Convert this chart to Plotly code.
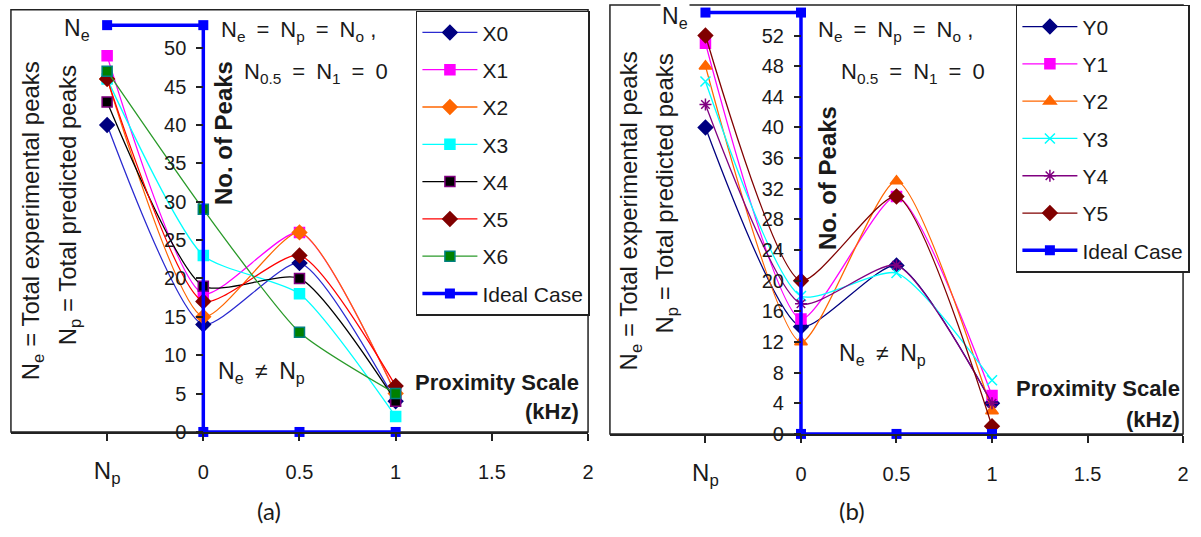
import plotly.graph_objects as go

# ---------------- data ----------------
x_pos = [-0.5, 0, 0.5, 1]
x_tickvals = [-0.5, 0, 0.5, 1, 1.5, 2]
x_ticktext = ['<span style="font-size:24px">N<sub>p</sub></span>', '0', '0.5', '1', '1.5', '2']

a_names = ['X0', 'X1', 'X2', 'X3', 'X4', 'X5', 'X6']
X0 = [40, 14, 22, 4]
X1 = [49, 18, 26, 5]
X2 = [46, 15, 26, 5]
X3 = [46, 23, 18, 2]
X4 = [43, 19, 20, 4]
X5 = [46, 17, 23, 6]
X6 = [47, 29, 13, 5]

b_names = ['Y0', 'Y1', 'Y2', 'Y3', 'Y4', 'Y5']
Y0 = [40, 14, 22, 4]
Y1 = [51, 15, 31, 5]
Y2 = [48, 12, 33, 3]
Y3 = [46, 18, 21, 7]
Y4 = [43, 17, 22, 4]
Y5 = [52, 20, 31, 1]

ideal_x = [-0.5, 0, 0, 0.5, 1]
ideal_a = [53, 53, 0, 0, 0]
ideal_b = [55, 55, 0, 0, 0]

a_yticks = list(range(0, 51, 5))
b_yticks = list(range(0, 53, 4))

# ---------------- styles ----------------
W, H = 1201, 537
FONT = 'Liberation Sans'
TXT = '#1a1a1a'
SP = '\u2002'  # en space for wide operators


def px(x):
    return x / W


def py(y):
    return 1 - y / H


a_styles = [
    dict(line='#2b2bd0', fill='#000080', edge='#000080', symbol='diamond', size=11),
    dict(line='#ff00ff', fill='#ff00ff', edge='#ff00ff', symbol='square', size=10),
    dict(line='#ff6600', fill='#ff6600', edge='#ff6600', symbol='diamond', size=11),
    dict(line='#00ffff', fill='#00ffff', edge='#00ffff', symbol='square', size=10),
    dict(line='#000000', fill='#000000', edge='#800080', symbol='square', size=10),
    dict(line='#ff0000', fill='#800000', edge='#800000', symbol='diamond', size=11),
    dict(line='#2a9a2a', fill='#008000', edge='#008080', symbol='square', size=10),
]
b_styles = [
    dict(line='#000080', fill='#000080', edge='#000080', symbol='diamond', size=11),
    dict(line='#ff00ff', fill='#ff00ff', edge='#ff00ff', symbol='square', size=10),
    dict(line='#ff6600', fill='#ff6600', edge='#ff6600', symbol='triangle-up', size=11),
    dict(line='#00ffff', fill='#00ffff', edge='#00ffff', symbol='x-thin', size=10),
    dict(line='#800080', fill='#800080', edge='#800080', symbol='asterisk', size=10),
    dict(line='#800000', fill='#800000', edge='#800000', symbol='diamond', size=11),
]

SMOOTH = 0.6
fig = go.Figure()

a_series = [X0, X1, X2, X3, X4, X5, X6]
for i, (name, vals, st) in enumerate(zip(a_names, a_series, a_styles)):
    fig.add_trace(go.Scatter(
        x=x_pos, y=vals, name=name, mode='lines+markers',
        line=dict(color=st['line'], width=1.3, shape='spline', smoothing=SMOOTH),
        marker=dict(symbol=st['symbol'], size=st['size'], color=st['fill'],
                    line=dict(color=st['edge'], width=1.5)),
        cliponaxis=False,
        xaxis='x', yaxis='y', legend='legend', legendgroup='a%d' % i))
fig.add_trace(go.Scatter(
    x=ideal_x, y=ideal_a, name='Ideal Case', mode='lines+markers',
    line=dict(color='#0000ff', width=3.5),
    marker=dict(symbol='square', size=10, color='#0000ff'),
    cliponaxis=False,
    xaxis='x', yaxis='y', legend='legend', legendgroup='a_ideal'))

b_series = [Y0, Y1, Y2, Y3, Y4, Y5]
for i, (name, vals, st) in enumerate(zip(b_names, b_series, b_styles)):
    fig.add_trace(go.Scatter(
        x=x_pos, y=vals, name=name, mode='lines+markers',
        line=dict(color=st['line'], width=1.3, shape='spline', smoothing=SMOOTH),
        marker=dict(symbol=st['symbol'], size=st['size'], color=st['fill'],
                    line=dict(color=st['edge'], width=1.5)),
        cliponaxis=False,
        xaxis='x2', yaxis='y2', legend='legend2', legendgroup='b%d' % i))
fig.add_trace(go.Scatter(
    x=ideal_x, y=ideal_b, name='Ideal Case', mode='lines+markers',
    line=dict(color='#0000ff', width=3.5),
    marker=dict(symbol='square', size=10, color='#0000ff'),
    cliponaxis=False,
    xaxis='x2', yaxis='y2', legend='legend2', legendgroup='b_ideal'))

# ---------------- axes ----------------
a_xdom = [px(11), px(591)]
a_ydom = [py(441), py(10)]
b_xdom = [px(613), px(1189)]
b_ydom = [py(443), py(5)]

xcommon = dict(range=[-1, 2], tickvals=x_tickvals, ticktext=x_ticktext,
               ticks='outside', ticklen=7, tickwidth=1.5, tickcolor='#222',
               showline=True, linecolor='#222', linewidth=1.5,
               showgrid=False, zeroline=False, ticklabelstandoff=14,
               tickfont=dict(family=FONT, size=20, color=TXT))
ycommon = dict(ticks='outside', ticklen=7, tickwidth=1.5, tickcolor='#222',
               showline=False, showgrid=False, zeroline=False,
               anchor='free', side='left', ticklabelstandoff=6,
               tickfont=dict(family=FONT, size=20, color=TXT))

fig.update_layout(
    xaxis=dict(domain=a_xdom, anchor='y', **xcommon),
    yaxis=dict(domain=a_ydom, range=[0, 55], tickvals=a_yticks,
               position=a_xdom[0] + (a_xdom[1] - a_xdom[0]) / 3, **ycommon),
    xaxis2=dict(domain=b_xdom, anchor='y2', **xcommon),
    yaxis2=dict(domain=b_ydom, range=[0, 56], tickvals=b_yticks,
                position=b_xdom[0] + (b_xdom[1] - b_xdom[0]) / 3, **ycommon),
)

legend_common = dict(xanchor='left', yanchor='top', bgcolor='white',
                     bordercolor='#222', borderwidth=1.5, tracegroupgap=7,
                     itemwidth=55,
                     font=dict(family=FONT, size=21, color=TXT))
fig.update_layout(
    legend=dict(x=px(418), y=py(11), **legend_common),
    legend2=dict(x=px(1021), y=py(5), **legend_common),
)

# frames
for xr, yr in (('x domain', 'y domain'), ('x2 domain', 'y2 domain')):
    fig.add_shape(type='rect', xref=xr, yref=yr, x0=0, x1=1, y0=0, y1=1,
                  line=dict(color='#222', width=1.5), layer='below')

# ---------------- annotations ----------------
def ann(text, x, y, size=21, xanchor='center', yanchor='middle', angle=0,
        bold=False, family=FONT, bg=None):
    fig.add_annotation(text=('<b>%s</b>' % text) if bold else text,
                       x=px(x), y=py(y), xref='paper', yref='paper',
                       xanchor=xanchor, yanchor=yanchor, textangle=angle,
                       showarrow=False, bgcolor=bg,
                       font=dict(family=family, size=size, color=TXT))


line1 = 'N<sub>e</sub>' + SP + '=' + SP + 'N<sub>p</sub>' + SP + '=' + SP + 'N<sub>o</sub> ,'
line2 = 'N<sub>0.5</sub>' + SP + '=' + SP + 'N<sub>1</sub>' + SP + '=' + SP + '0'
neq = 'N<sub>e</sub>' + SP + '≠' + SP + 'N<sub>p</sub>'

# panel (a)
ann('N<sub>e</sub>', 92, 30, size=23, xanchor='right')
ann(line1, 220, 32, size=22, xanchor='left')
ann(line2, 243, 75, size=22, xanchor='left')
ann('No. of Peaks', 224, 136, size=24, angle=-90, bold=True)
ann('N<sub>e</sub> = Total experimental peaks', 33, 225, size=24, angle=-90)
ann('N<sub>p</sub> = Total predicted peaks', 70, 210, size=24, angle=-90)
ann(neq, 217, 380, size=23, xanchor='left')
ann('Proximity Scale', 584, 390, size=22, xanchor='right', bold=True)
ann('(kHz)', 584, 420, size=22, xanchor='right', bold=True)
ann('(a)', 270, 521, size=24, family='Lato')

# panel (b)
ann('N<sub>e</sub>', 693, 18, size=23, xanchor='right', bg='white')
ann(line1, 820, 32, size=22, xanchor='left')
ann(line2, 843, 75, size=22, xanchor='left')
ann('No. of Peaks', 831, 182, size=24, angle=-90, bold=True)
ann('N<sub>e</sub> = Total experimental peaks', 634, 215, size=24, angle=-90)
ann('N<sub>p</sub> = Total predicted peaks', 670, 198, size=24, angle=-90)
ann(neq, 841, 362, size=23, xanchor='left')
ann('Proximity Scale', 1188, 397, size=22, xanchor='right', bold=True)
ann('(kHz)', 1188, 428, size=22, xanchor='right', bold=True)
ann('(b)', 856, 521, size=24, family='Lato')

fig.update_layout(width=W, height=H, margin=dict(l=0, r=0, t=0, b=0),
                  paper_bgcolor='white', plot_bgcolor='white',
                  font=dict(family=FONT, color=TXT))

fig.write_html('out.html')
